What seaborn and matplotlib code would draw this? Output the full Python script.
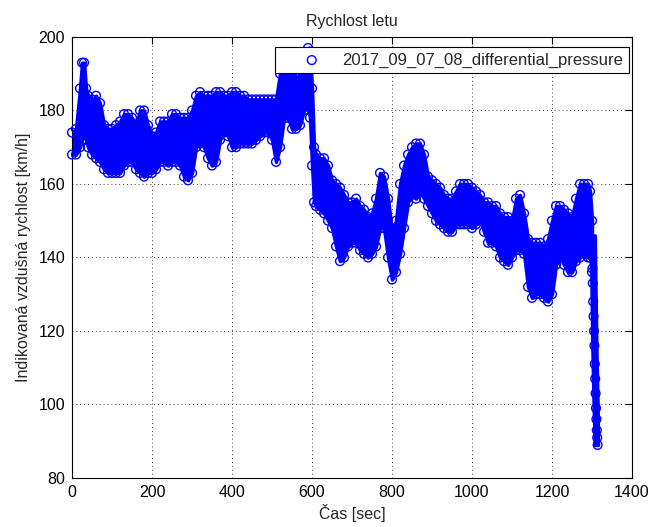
import numpy as np
import pandas as pd
import matplotlib
matplotlib.use("Agg")
import matplotlib.pyplot as plt
import seaborn as sns

# -----------------------------
# Data (band of the dense scatter)
# -----------------------------
time_s = [0, 10, 20, 25, 30, 35, 40, 50, 60, 70, 80, 90, 100, 110, 120, 130, 140, 150,
          160, 170, 180, 190, 200, 210, 220, 230, 240, 250, 260, 270, 280, 290, 300,
          310, 320, 330, 340, 350, 360, 370, 380, 390, 400, 410, 420, 430, 440, 450,
          460, 470, 480, 490, 500, 510, 520, 530, 540, 550, 560, 570, 580, 590, 595,
          600, 605, 610, 620, 630, 640, 650, 660, 670, 680, 690, 700, 710, 720, 730,
          740, 750, 760, 770, 780, 790, 800, 810, 820, 830, 840, 850, 860, 870, 880,
          890, 900, 910, 920, 930, 940, 950, 960, 970, 980, 990, 1000, 1010, 1020,
          1030, 1040, 1050, 1060, 1070, 1080, 1090, 1100, 1110, 1120, 1130, 1140,
          1150, 1160, 1170, 1180, 1190, 1200, 1210, 1220, 1230, 1240, 1250, 1260,
          1270, 1280, 1290, 1295, 1300]
speed_low = [168, 168, 170, 172, 174, 172, 170, 168, 167, 166, 164, 163, 163, 163, 163,
             165, 166, 166, 164, 163, 162, 163, 163, 164, 166, 166, 165, 166, 166, 165,
             162, 161, 163, 170, 171, 170, 167, 165, 166, 172, 174, 173, 170, 170, 171,
             171, 171, 171, 172, 173, 174, 174, 172, 166, 170, 178, 178, 175, 175, 176,
             180, 181, 178, 165, 155, 154, 153, 152, 150, 148, 143, 139, 140, 143, 144,
             144, 142, 141, 140, 141, 143, 148, 148, 140, 134, 136, 141, 148, 155, 157,
             156, 158, 156, 154, 152, 150, 149, 148, 147, 147, 149, 149, 149, 149, 148,
             149, 150, 147, 144, 144, 143, 140, 139, 138, 140, 142, 142, 141, 132, 129,
             130, 130, 129, 128, 130, 138, 140, 138, 136, 136, 139, 140, 141, 140, 140,
             136]
speed_high = [174, 175, 186, 193, 193, 186, 184, 183, 184, 182, 176, 175, 175, 176, 177,
              179, 179, 178, 176, 180, 180, 176, 173, 174, 177, 177, 177, 179, 179, 178,
              178, 178, 180, 184, 185, 184, 184, 184, 185, 185, 184, 184, 185, 185, 184,
              184, 183, 183, 183, 183, 183, 183, 183, 183, 190, 190, 191, 190, 189, 190,
              192, 197, 196, 186, 170, 168, 167, 167, 165, 161, 160, 159, 157, 155, 155,
              156, 154, 153, 151, 152, 156, 163, 162, 156, 147, 150, 160, 165, 168, 170,
              171, 171, 168, 162, 161, 160, 159, 157, 156, 156, 158, 160, 160, 160, 159,
              158, 157, 155, 155, 154, 154, 152, 151, 151, 150, 156, 157, 152, 145, 144,
              144, 144, 143, 145, 150, 154, 154, 153, 152, 151, 156, 160, 160, 160, 158,
              150]

# final descent: column of points (speed level, earliest and latest time)
tail_v = [146, 130, 115, 100, 89]
tail_t_first = [1297, 1299, 1301, 1304, 1307]
tail_t_last = [1307, 1309, 1311, 1314, 1315]

# single points visible in the descent
tail_t = [1300, 1301, 1302, 1303, 1304, 1305, 1306, 1307, 1308, 1309, 1310, 1311, 1312,
          1313, 1314]
tail_pts = [142, 137, 133, 128, 124, 120, 116, 111, 107, 103, 99, 96, 93, 91, 89]

x_ticks = [0, 200, 400, 600, 800, 1000, 1200, 1400]
y_ticks = [80, 100, 120, 140, 160, 180, 200]

band = pd.DataFrame({"t": time_s, "low": speed_low, "high": speed_high})
edges = pd.concat([
    pd.DataFrame({"t": time_s, "v": speed_low}),
    pd.DataFrame({"t": time_s, "v": speed_high}),
    pd.DataFrame({"t": tail_t, "v": tail_pts}),
], ignore_index=True)

# -----------------------------
# Plot
# -----------------------------
sns.set_style("white")
plt.rcParams["font.family"] = ["Liberation Sans", "DejaVu Sans"]

fig = plt.figure(figsize=(6.68, 5.27), dpi=100)
ax = fig.add_axes([0.1078, 0.093, 0.8383, 0.8369])

blue = (0, 0, 1)
ax.fill_between(band["t"], band["low"], band["high"], color=blue, lw=2.5,
                edgecolor=blue, zorder=2)
ax.fill_betweenx(tail_v, tail_t_first, tail_t_last, color=blue, lw=2.5,
                 edgecolor=blue, zorder=2)
sns.scatterplot(data=edges, x="t", y="v", ax=ax, marker="o", s=40,
                facecolor="none", edgecolor=blue, linewidth=1.0, zorder=3,
                clip_on=False, label="2017_09_07_08_differential_pressure")

ax.set_xlim(0, 1400)
ax.set_ylim(80, 200)
ax.set_xticks(x_ticks)
ax.set_yticks(y_ticks)
ax.tick_params(direction="in", length=5, width=0.8, top=True, right=True,
               labelsize=11.5, colors="black", pad=5)
for sp in ax.spines.values():
    sp.set_color("black")
    sp.set_linewidth(0.8)
ax.grid(True, color="0.25", linestyle=(0, (1, 3)), linewidth=0.7)

ax.set_title("Rychlost letu", fontsize=11.5, pad=8)
ax.set_xlabel("Čas [sec]", fontsize=11.5, labelpad=3)
ax.set_ylabel("Indikovaná vzdušná rychlost [km/h]", fontsize=11.5, labelpad=5)

leg = ax.legend(loc="upper right", bbox_to_anchor=(0.9946, 0.9773), borderaxespad=0,
                fontsize=12, frameon=True, fancybox=False, edgecolor="black",
                framealpha=1.0, handlelength=3.7, handletextpad=0.0, borderpad=0.33)
leg.get_frame().set_linewidth(0.8)
leg.set_zorder(10)

fig.savefig("out.png", dpi=100)
